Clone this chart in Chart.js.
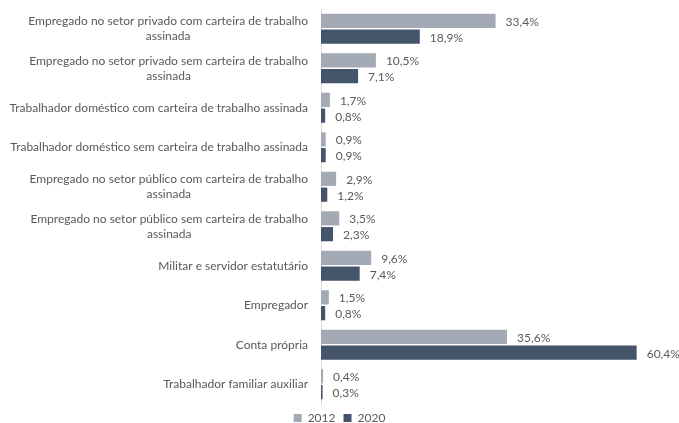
<!DOCTYPE html>
<html>
<head>
<meta charset="utf-8">
<script src="https://cdn.jsdelivr.net/npm/chart.js@4"></script>
<style>
  html, body { margin: 0; padding: 0; background: #ffffff; }
  #wrap { width: 679px; height: 423px; position: relative; }
</style>
</head>
<body>
<div id="wrap"><canvas id="chart"></canvas></div>
<script>
// Posição na ocupação — participação por ano
const categories = [
  ["Empregado no setor privado com carteira de trabalho", "assinada"],
  ["Empregado no setor privado sem carteira de trabalho", "assinada"],
  "Trabalhador doméstico com carteira de trabalho assinada",
  "Trabalhador doméstico sem carteira de trabalho assinada",
  ["Empregado no setor público com carteira de trabalho", "assinada"],
  ["Empregado no setor público sem carteira de trabalho", "assinada"],
  "Militar e servidor estatutário",
  "Empregador",
  "Conta própria",
  "Trabalhador familiar auxiliar"
];
const seriesNames = ["2012", "2020"];
const values2012 = [33.4, 10.5, 1.7, 0.9, 2.9, 3.5, 9.6, 1.5, 35.6, 0.4];
const values2020 = [18.9, 7.1, 0.8, 0.9, 1.2, 2.3, 7.4, 0.8, 60.4, 0.3];

const FONT = "Lato, 'Open Sans', sans-serif";
const TEXT_COLOR = "#595959";
const AXIS_WIDTH = 321;

const fmt = v => v.toFixed(1).replace(".", ",") + "%";

// Category labels: each block right-aligned against the axis, lines centred within the block
const categoryLabels = {
  id: "categoryLabels",
  afterDraw(chart) {
    const ctx = chart.ctx;
    const yScale = chart.scales.y;
    const right = chart.chartArea.left - 13;
    const lineH = 15;
    ctx.save();
    ctx.font = "12px " + FONT;
    ctx.fillStyle = TEXT_COLOR;
    ctx.textAlign = "center";
    ctx.textBaseline = "middle";
    categories.forEach((lab, i) => {
      const lines = Array.isArray(lab) ? lab : [lab];
      const w = Math.max(...lines.map(l => ctx.measureText(l).width));
      const cx = right - w / 2;
      const cy = yScale.getPixelForValue(i);
      const y0 = cy - (lines.length - 1) * lineH / 2;
      lines.forEach((l, k) => ctx.fillText(l, cx, y0 + k * lineH));
    });
    ctx.restore();
  }
};

// Percentage labels to the right of each bar
const valueLabels = {
  id: "valueLabels",
  afterDatasetsDraw(chart) {
    const ctx = chart.ctx;
    ctx.save();
    ctx.font = "12px " + FONT;
    ctx.fillStyle = TEXT_COLOR;
    ctx.textAlign = "left";
    ctx.textBaseline = "middle";
    chart.data.datasets.forEach((ds, di) => {
      const meta = chart.getDatasetMeta(di);
      meta.data.forEach((bar, i) => {
        ctx.fillText(fmt(ds.data[i]), bar.x + 10, bar.y + 1);
      });
    });
    ctx.restore();
  }
};

new Chart(document.getElementById("chart"), {
  type: "bar",
  data: {
    labels: categories.map(c => Array.isArray(c) ? c.join(" ") : c),
    datasets: [
      { label: seriesNames[0], data: values2012, backgroundColor: "#A4AAB5" },
      { label: seriesNames[1], data: values2020, backgroundColor: "#44546A" }
    ]
  },
  options: {
    indexAxis: "y",
    responsive: true,
    maintainAspectRatio: false,
    animation: false,
    layout: { padding: { left: 0, right: 0, top: 9, bottom: -11 } },
    datasets: { bar: { categoryPercentage: 0.8, barPercentage: 0.9 } },
    scales: {
      x: { display: false, min: 0, max: 68.5 },
      y: {
        grid: { display: false },
        ticks: { display: false },
        border: { display: true, color: "#D9D9D9", width: 1 },
        afterFit(scale) { scale.width = AXIS_WIDTH; }
      }
    },
    plugins: {
      legend: {
        position: "bottom",
        labels: {
          font: { family: FONT, size: 12 },
          color: TEXT_COLOR,
          boxWidth: 8,
          boxHeight: 8,
          padding: 8
        }
      },
      tooltip: { enabled: false }
    }
  },
  plugins: [categoryLabels, valueLabels]
});
</script>
</body>
</html>
